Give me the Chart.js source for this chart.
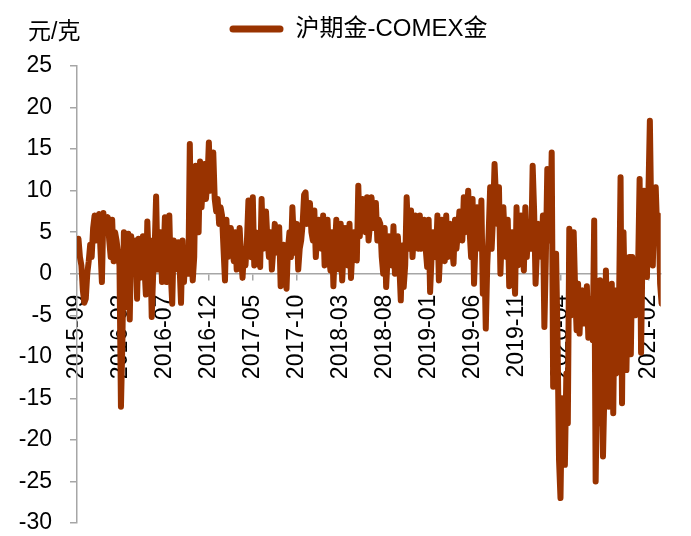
<!DOCTYPE html>
<html>
<head>
<meta charset="utf-8">
<script src="https://cdn.jsdelivr.net/npm/chart.js@4"></script>
<style>
  body { margin: 0; background: #fff; }
  #wrap { position: relative; width: 691px; height: 536px; }
  #unit { position: absolute; left: 28px; top: 12px; font: 23px "Liberation Sans", "Noto Sans CJK SC"; color: #000; }
</style>
</head>
<body>
<div id="wrap">
  <canvas id="chart" width="691" height="536"></canvas>
  <div id="unit">元/克</div>
</div>
<script>
// 沪期金-COMEX金 价差，每月六个读数，自 2015-09 起
const tickLabels = ['2015-09','2016-02','2016-07','2016-12','2017-05','2017-10','2018-03','2018-08','2019-01','2019-06','2019-11','2020-04','2020-09','2021-02'];
const perMonth = 6;
const spread = [
  3, 4.2, 2, 1, -2, -3.5,          // 2015-09
  -3, 0, 1.5, 3.5, 2, 5.5,
  7, 4, 6, 7.2, 3, -1,
  7.3, 5, 6.5, 6.8, 4, 2,
  6.5, 1.5, 5, 4, 2.5, 1,          // 2016-01
  -16, -8, 5, -4, 2, 4.8,
  -5.5, 4.5, 0, 1.5, 4, -3,
  4.2, -0.5, 2, 4.5, 1, -2.5,
  6.3, 1.5, 4, -5.2, 0, 3,
  9.3, 0.5, 3, 5, -1, 1.5,
  6.8, -1, 3, 7, 0, -3.6,
  4, 0.5, 2.5, 3.8, 1, -3.5,
  4, -1, 2, 3, 0, 15.6,
  3, -0.8, 2, 13, 8, 5,
  13.5, 8, 11, 13.2, 9, 11,
  15.8, 10, 13, 14.6, 9, 7.5,      // 2016-12
  9, 6, 8, 7, 3, -0.8,
  6.5, 2, 4, 5.5, 3, 1.5,
  5, 0.5, 3, 5.5, 2, -0.5,
  3, 1, 4, 8.8, 3, 2,
  9.2, 1, 5, 4, 2, 0.8,            // 2017-05
  9, 3, 6, 7.5, 4, 2,
  5, 0.5, 3, 6, 4, 2.5,
  5.6, -1.5, 2, 3.5, 1, -1.8,
  3, 5, 2, 8, 4, 2.5,
  6, 0.5, 3, 4, 6, 9.5,            // 2017-10
  9.8, 6, 8, 8.5, 5, 4,
  7.6, 2, 5, 6.5, 4, 3,
  7, 1, 4, 6.5, 2, 0.4,
  5, -1.5, 3, 6.5, 2, 0.5,
  6, -0.8, 3, 5.5, 3, 1,           // 2018-03
  6, -0.5, 3, 5, 3, 1.6,
  10.6, 4.5, 7, 9, 6, 5,
  9.2, 4, 6, 9.2, 7, 5.5,
  8.5, 4, 6.5, 6, 2, 0,
  5.5, -1.6, 2, 4.5, 3, 1,         // 2018-08
  5.7, 0, 3, 4.5, 1, -3.2,
  3.4, -1.6, 1, 9.2, 5, 3,
  7.6, 2, 5, 7, 4, 3,
  7, 3, 5, 6.5, 3, 0.8,
  6.5, -2.2, 2, 5, 3, 2,           // 2019-01
  7, -0.8, 3, 6.5, 3, 1.5,
  7, 2, 4, 6, 3, 1.2,
  6.5, 3, 5, 7.5, 5, 4,
  9.2, 5, 7, 10, 5, 2,
  9, -1.2, 4, 8, 5, 3,             // 2019-06
  8.8, -2.4, 3, -6.6, 1, 5,
  10.4, 3, 7, 13.2, 9, 6,
  10.4, 0, 5, 8, 4, 2,
  6.5, -1.5, 2, 5, 1, -2.4,
  8, 1, 4, 7, 3, 0.4,              // 2019-11
  8, 2, 5, 6, 3, 13,
  7.6, -1.2, 3, 6, 4, 2,
  7, -6.4, 2, 12.6, 6, 4,
  14.6, -13.6, -2, 2.4, -8, -22.4,
  -27, -15, -20, -23, -12, -18,    // 2020-04
  5.4, -5, 0, 5, -2, -6.8,
  -1.2, -7.2, -3, -2, -6, -5,
  -1.5, -7.7, -4, -3, -8, 6.4,
  -25, -12, -18, -0.8, -10, -22,
  -14, 0.4, -8, -16, -5, -1.2,     // 2020-09
  -16.8, -2, -12, -9, -3, 11.6,
  -15.6, 5, -4, -11.6, -2, 2,
  -9.7, 2, -3, -5, -1, 1,
  11.4, -9.5, 3, 10, 2, -0.4,
  9.6, 18.4, 6, 1, 8, 10.4,        // 2021-02
  5, 7, -1.2, -3.6
];

const axisGray = '#a6a6a6';
const font = { family: '"Liberation Sans", "Noto Sans CJK SC"', size: 23 };

// extra room under the legend, and legend centred a little right of the canvas middle
const legendTweak = {
  id: 'legendTweak',
  beforeInit(chart) {
    const fit = chart.legend.fit;
    chart.legend.fit = function () {
      fit.call(this);
      this.height += 15;
    };
  },
  afterLayout(chart) {
    chart.legend.left += 26;
  }
};

new Chart(document.getElementById('chart'), {
  type: 'line',
  data: {
    datasets: [{
      label: '沪期金-COMEX金',
      data: spread.map((v, i) => ({ x: i / perMonth, y: v })),
      borderColor: '#993300',
      backgroundColor: '#993300',
      borderWidth: 6,
      borderJoinStyle: 'round',
      borderCapStyle: 'round',
      pointRadius: 0,
      tension: 0
    }]
  },
  options: {
    responsive: false,
    animation: false,
    layout: { padding: { left: 0, right: 0, top: 9, bottom: 13 } },
    plugins: {
      legend: {
        position: 'top',
        labels: {
          font: { family: font.family, size: 24 },
          color: '#000',
          boxWidth: 54,
          boxHeight: 7,
          useBorderRadius: true,
          borderRadius: 3.5,
          padding: 8,
          generateLabels: chart =>
            Chart.defaults.plugins.legend.labels.generateLabels(chart).map(l => ({ ...l, lineWidth: 0 }))
        }
      },
      tooltip: { enabled: false }
    },
    scales: {
      x: {
        type: 'linear',
        min: 0,
        max: 66.4,
        position: { y: 0 },
        afterFit: s => { s.height = 0; },
        grid: { drawOnChartArea: false, tickLength: 6, color: axisGray, lineWidth: 1.5 },
        border: { color: axisGray, width: 1.5 },
        ticks: {
          stepSize: 5,
          autoSkip: false,
          includeBounds: false,
          minRotation: 90,
          maxRotation: 90,
          padding: 15,
          font: font,
          color: '#000',
          callback: v => tickLabels[v / 5] ?? ''
        }
      },
      y: {
        min: -30,
        max: 25,
        afterFit: s => { s.width = 77; s.paddingTop = 0; s.paddingBottom = 0; },
        grid: { drawOnChartArea: false, tickLength: 7, color: axisGray, lineWidth: 1.5 },
        border: { color: axisGray, width: 1.5 },
        ticks: { stepSize: 5, padding: 18, font: font, color: '#000' }
      }
    }
  },
  plugins: [legendTweak]
});
</script>
</body>
</html>
